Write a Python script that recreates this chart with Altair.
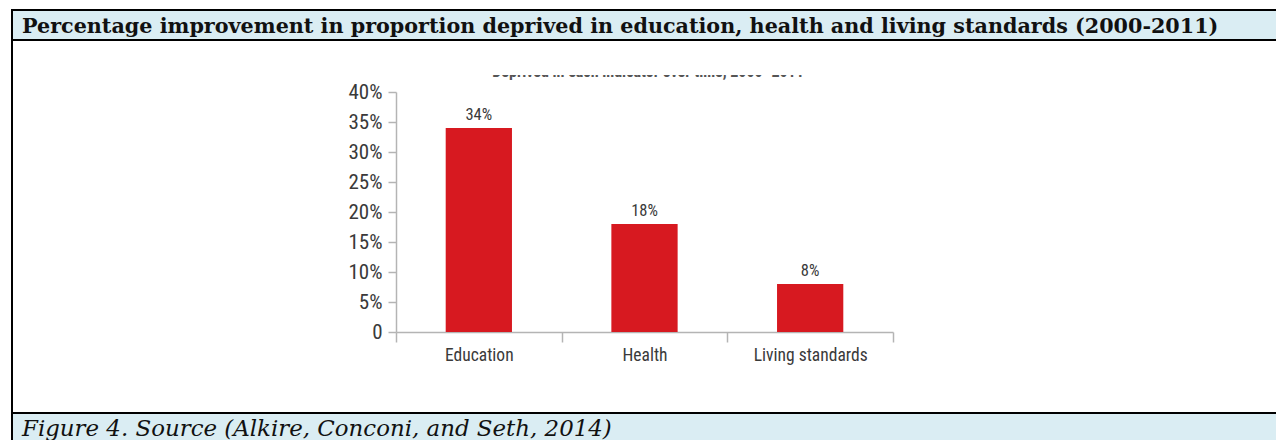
import altair as alt
import pandas as pd

# ---- data ----
categories = ["Education", "Health", "Living standards"]
values = [34, 18, 8]
value_labels = ["34%", "18%", "8%"]
y_ticks = [0, 5, 10, 15, 20, 25, 30, 35, 40]
title_text = "Percentage improvement in proportion deprived in education, health and living standards (2000-2011)"
caption_text = "Figure 4. Source (Alkire, Conconi, and Seth, 2014)"
subtitle_text = "Deprived in each indicator over time, 2000\u20132011"

# ---- layout ----
W, H = 1276, 440
OX, OY = 396, 92       # plot origin on the page
PW, PH = 497, 240      # plot size
NARROW = "Liberation Sans Narrow, Arial Narrow, Roboto Condensed, sans-serif"
SERIF = "DejaVu Serif, serif"
BLUE = "#daedf3"
AX = "#b4b4b4"
TXT = "#3a3a3a"

df = pd.DataFrame({"cat": categories, "val": values, "lab": value_labels})
one = pd.DataFrame({"title": [title_text], "caption": [caption_text], "sub": [subtitle_text]})


def px(v):
    return alt.value(v - OX)


def py(v):
    return alt.value(v - OY)


def rect(x1, x2, y1, y2, color):
    return alt.Chart(one).mark_rect(color=color).encode(
        x=px(x1), x2=px(x2), y=py(y1), y2=py(y2)
    )


# decorations (frame, title bar, caption bar)
title_bar = rect(11, W, 9, 41, BLUE)
caption_bar = rect(11, W, 412, H, BLUE)
top_line = rect(11, W, 9, 11, "#000000")
title_line = rect(11, W, 39, 41, "#000000")
bottom_line = rect(11, W, 412, 414, "#000000")
left_line = rect(11, 13, 9, H, "#000000")

title = alt.Chart(one).mark_text(
    align="left", baseline="alphabetic", font=SERIF, fontSize=20.7, fontWeight="bold", color="#111111"
).encode(x=px(22), y=py(33), text="title:N")

caption = alt.Chart(one).mark_text(
    align="left", baseline="alphabetic", font=SERIF, fontSize=22.9, fontStyle="italic", color="#111111"
).encode(x=px(22), y=py(436), text="caption:N")

# clipped subtitle (only lower edge of the letters visible)
subtitle = alt.Chart(one).mark_text(
    align="center", baseline="alphabetic", font=NARROW, fontSize=16, fontWeight="bold", color="#555555"
).encode(x=px(648), y=py(77), text="sub:N")
sub_mask = rect(14, W, 41, 75, "#ffffff")

# ---- chart ----
x_enc = alt.X(
    "cat:N", sort=categories, title=None,
    scale=alt.Scale(paddingInner=0, paddingOuter=0),
    axis=alt.Axis(
        labelAngle=0, tickBand="extent", domainColor=AX, tickColor=AX, tickSize=10,
        labelPadding=4, labelFont=NARROW, labelFontSize=17.5, labelColor=TXT, domainWidth=1.5,
        tickWidth=1.5,
    ),
)
y_enc = alt.Y(
    "val:Q", title=None, scale=alt.Scale(domain=[0, 40], nice=False),
    axis=alt.Axis(
        values=y_ticks, labelExpr="datum.value == 0 ? '0' : datum.value + '%'", grid=False,
        labelOverlap=False, labelBound=False, labelFlush=False,
        domainColor=AX, tickColor=AX, tickSize=8, labelPadding=6, labelFont=NARROW,
        labelFontSize=21, labelColor=TXT, domainWidth=1.5, tickWidth=1.5,
    ),
)

bars = alt.Chart(df).mark_bar(color="#d71920", width=alt.RelativeBandSize(0.4)).encode(
    x=x_enc, y=y_enc
)
labels = alt.Chart(df).mark_text(
    baseline="bottom", dy=-5, font=NARROW, fontSize=16.5, color=TXT
).encode(x=x_enc, y=y_enc, text="lab:N")

chart = alt.layer(
    title_bar, caption_bar, top_line, title_line, bottom_line, left_line,
    subtitle, sub_mask, title, caption, bars, labels,
).properties(
    width=PW, height=PH,
    padding={"left": OX, "top": OY, "right": W - OX - PW, "bottom": H - OY - PH},
    autosize=alt.AutoSizeParams(type="none"),
    background="#ffffff",
).configure_view(stroke=None)

chart.save("out.html", embed_options={"renderer": "svg", "actions": False})
